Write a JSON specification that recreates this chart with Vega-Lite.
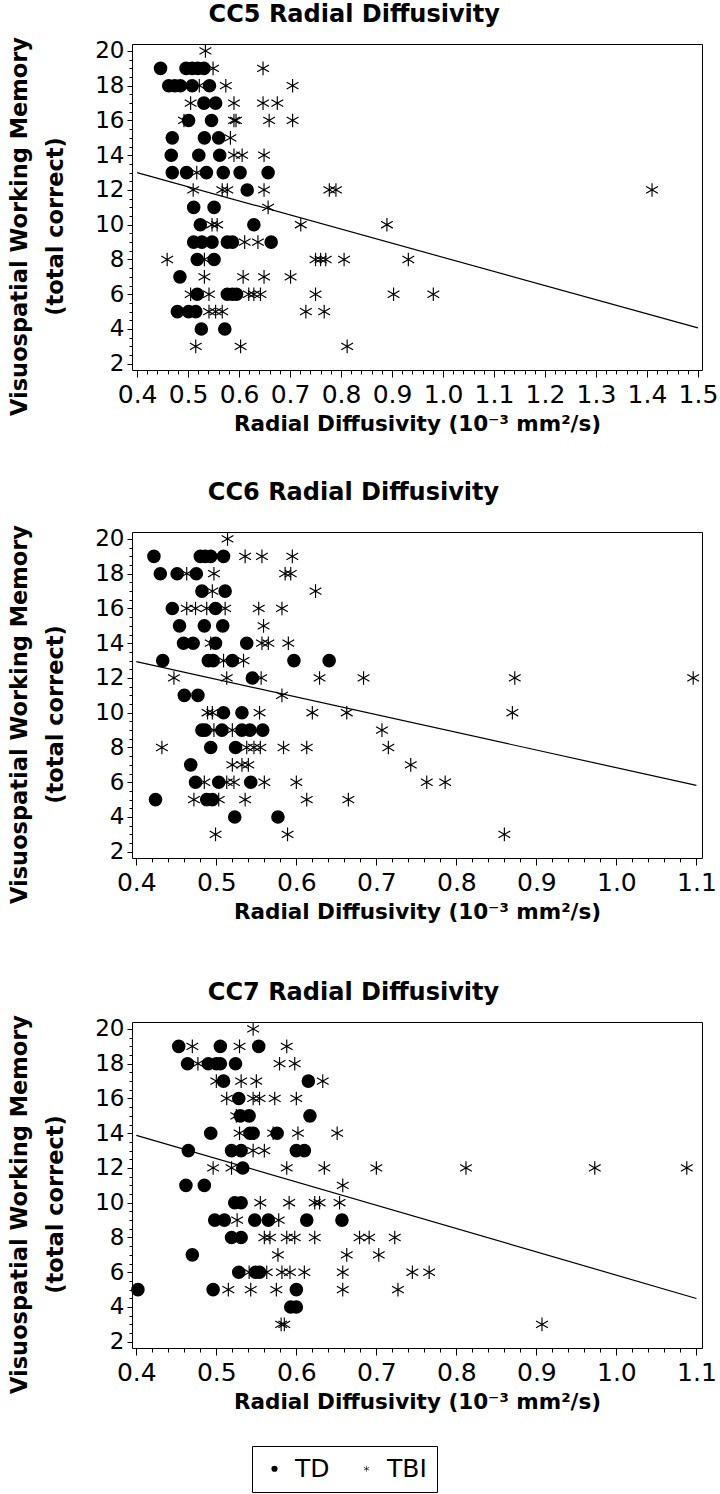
{
  "$schema": "https://vega.github.io/schema/vega-lite/v6.json",
  "padding": {"left": 8, "top": 2, "right": 5, "bottom": 0},
  "background": "white",
  "config": {
    "font": "DejaVu Sans",
    "view": {"stroke": "black", "strokeWidth": 1},
    "title": {"fontSize": 24, "fontWeight": "bold", "color": "black", "offset": 10, "font": "DejaVu Sans", "frame": "bounds", "dx": -9},
    "axis": {
      "domain": false, "grid": false, "tickColor": "black", "labelColor": "black", "titleColor": "black",
      "labelFont": "DejaVu Sans", "titleFont": "DejaVu Sans", "titleFontWeight": "bold", "labelFlush": false
    },
    "axisX": {"labelFontSize": 25, "labelPadding": 5, "titleFontSize": 21.5, "titlePadding": 6, "tickSize": 7},
    "axisY": {"labelFontSize": 23, "labelPadding": 3, "titleFontSize": 22.5, "titlePadding": 27, "titleLineHeight": 36, "tickSize": 5}
  },
  "datasets": {
    "pts": [
      {"p":"CC5","g":"TD","rd":0.446,"wm":19},{"p":"CC5","g":"TD","rd":0.496,"wm":19},{"p":"CC5","g":"TD","rd":0.508,"wm":19},{"p":"CC5","g":"TD","rd":0.519,"wm":19},{"p":"CC5","g":"TD","rd":0.531,"wm":19},
      {"p":"CC5","g":"TD","rd":0.462,"wm":18},{"p":"CC5","g":"TD","rd":0.474,"wm":18},{"p":"CC5","g":"TD","rd":0.485,"wm":18},{"p":"CC5","g":"TD","rd":0.508,"wm":18},{"p":"CC5","g":"TD","rd":0.542,"wm":18},
      {"p":"CC5","g":"TD","rd":0.531,"wm":17},{"p":"CC5","g":"TD","rd":0.554,"wm":17},
      {"p":"CC5","g":"TD","rd":0.501,"wm":16},{"p":"CC5","g":"TD","rd":0.546,"wm":16},
      {"p":"CC5","g":"TD","rd":0.469,"wm":15},{"p":"CC5","g":"TD","rd":0.532,"wm":15},{"p":"CC5","g":"TD","rd":0.56,"wm":15},
      {"p":"CC5","g":"TD","rd":0.467,"wm":14},{"p":"CC5","g":"TD","rd":0.521,"wm":14},{"p":"CC5","g":"TD","rd":0.562,"wm":14},
      {"p":"CC5","g":"TD","rd":0.469,"wm":13},{"p":"CC5","g":"TD","rd":0.497,"wm":13},{"p":"CC5","g":"TD","rd":0.536,"wm":13},{"p":"CC5","g":"TD","rd":0.569,"wm":13},{"p":"CC5","g":"TD","rd":0.602,"wm":13},{"p":"CC5","g":"TD","rd":0.657,"wm":13},
      {"p":"CC5","g":"TD","rd":0.616,"wm":12},
      {"p":"CC5","g":"TD","rd":0.511,"wm":11},{"p":"CC5","g":"TD","rd":0.551,"wm":11},
      {"p":"CC5","g":"TD","rd":0.524,"wm":10},{"p":"CC5","g":"TD","rd":0.629,"wm":10},
      {"p":"CC5","g":"TD","rd":0.511,"wm":9},{"p":"CC5","g":"TD","rd":0.527,"wm":9},{"p":"CC5","g":"TD","rd":0.547,"wm":9},{"p":"CC5","g":"TD","rd":0.577,"wm":9},{"p":"CC5","g":"TD","rd":0.587,"wm":9},{"p":"CC5","g":"TD","rd":0.663,"wm":9},
      {"p":"CC5","g":"TD","rd":0.518,"wm":8},{"p":"CC5","g":"TD","rd":0.551,"wm":8},
      {"p":"CC5","g":"TD","rd":0.484,"wm":7},
      {"p":"CC5","g":"TD","rd":0.518,"wm":6},{"p":"CC5","g":"TD","rd":0.577,"wm":6},{"p":"CC5","g":"TD","rd":0.587,"wm":6},{"p":"CC5","g":"TD","rd":0.595,"wm":6},
      {"p":"CC5","g":"TD","rd":0.479,"wm":5},{"p":"CC5","g":"TD","rd":0.501,"wm":5},{"p":"CC5","g":"TD","rd":0.515,"wm":5},
      {"p":"CC5","g":"TD","rd":0.526,"wm":4},{"p":"CC5","g":"TD","rd":0.572,"wm":4},

      {"p":"CC5","g":"TBI","rd":0.534,"wm":20},
      {"p":"CC5","g":"TBI","rd":0.549,"wm":19},{"p":"CC5","g":"TBI","rd":0.647,"wm":19},
      {"p":"CC5","g":"TBI","rd":0.522,"wm":18},{"p":"CC5","g":"TBI","rd":0.574,"wm":18},{"p":"CC5","g":"TBI","rd":0.705,"wm":18},
      {"p":"CC5","g":"TBI","rd":0.505,"wm":17},{"p":"CC5","g":"TBI","rd":0.59,"wm":17},{"p":"CC5","g":"TBI","rd":0.647,"wm":17},{"p":"CC5","g":"TBI","rd":0.675,"wm":17},
      {"p":"CC5","g":"TBI","rd":0.492,"wm":16},{"p":"CC5","g":"TBI","rd":0.59,"wm":16},{"p":"CC5","g":"TBI","rd":0.594,"wm":16},{"p":"CC5","g":"TBI","rd":0.659,"wm":16},{"p":"CC5","g":"TBI","rd":0.705,"wm":16},
      {"p":"CC5","g":"TBI","rd":0.583,"wm":15},
      {"p":"CC5","g":"TBI","rd":0.59,"wm":14},{"p":"CC5","g":"TBI","rd":0.606,"wm":14},{"p":"CC5","g":"TBI","rd":0.649,"wm":14},
      {"p":"CC5","g":"TBI","rd":0.517,"wm":13},
      {"p":"CC5","g":"TBI","rd":0.51,"wm":12},{"p":"CC5","g":"TBI","rd":0.567,"wm":12},{"p":"CC5","g":"TBI","rd":0.577,"wm":12},{"p":"CC5","g":"TBI","rd":0.649,"wm":12},{"p":"CC5","g":"TBI","rd":0.777,"wm":12},{"p":"CC5","g":"TBI","rd":0.79,"wm":12},{"p":"CC5","g":"TBI","rd":1.41,"wm":12},
      {"p":"CC5","g":"TBI","rd":0.657,"wm":11},
      {"p":"CC5","g":"TBI","rd":0.547,"wm":10},{"p":"CC5","g":"TBI","rd":0.557,"wm":10},{"p":"CC5","g":"TBI","rd":0.721,"wm":10},{"p":"CC5","g":"TBI","rd":0.89,"wm":10},
      {"p":"CC5","g":"TBI","rd":0.611,"wm":9},{"p":"CC5","g":"TBI","rd":0.637,"wm":9},
      {"p":"CC5","g":"TBI","rd":0.459,"wm":8},{"p":"CC5","g":"TBI","rd":0.532,"wm":8},{"p":"CC5","g":"TBI","rd":0.75,"wm":8},{"p":"CC5","g":"TBI","rd":0.76,"wm":8},{"p":"CC5","g":"TBI","rd":0.77,"wm":8},{"p":"CC5","g":"TBI","rd":0.806,"wm":8},{"p":"CC5","g":"TBI","rd":0.932,"wm":8},
      {"p":"CC5","g":"TBI","rd":0.532,"wm":7},{"p":"CC5","g":"TBI","rd":0.608,"wm":7},{"p":"CC5","g":"TBI","rd":0.649,"wm":7},{"p":"CC5","g":"TBI","rd":0.701,"wm":7},
      {"p":"CC5","g":"TBI","rd":0.505,"wm":6},{"p":"CC5","g":"TBI","rd":0.541,"wm":6},{"p":"CC5","g":"TBI","rd":0.619,"wm":6},{"p":"CC5","g":"TBI","rd":0.629,"wm":6},{"p":"CC5","g":"TBI","rd":0.642,"wm":6},{"p":"CC5","g":"TBI","rd":0.75,"wm":6},{"p":"CC5","g":"TBI","rd":0.903,"wm":6},{"p":"CC5","g":"TBI","rd":0.981,"wm":6},
      {"p":"CC5","g":"TBI","rd":0.541,"wm":5},{"p":"CC5","g":"TBI","rd":0.554,"wm":5},{"p":"CC5","g":"TBI","rd":0.567,"wm":5},{"p":"CC5","g":"TBI","rd":0.731,"wm":5},{"p":"CC5","g":"TBI","rd":0.767,"wm":5},
      {"p":"CC5","g":"TBI","rd":0.515,"wm":3},{"p":"CC5","g":"TBI","rd":0.603,"wm":3},{"p":"CC5","g":"TBI","rd":0.812,"wm":3},

      {"p":"CC6","g":"TD","rd":0.422,"wm":19},{"p":"CC6","g":"TD","rd":0.48,"wm":19},{"p":"CC6","g":"TD","rd":0.486,"wm":19},{"p":"CC6","g":"TD","rd":0.493,"wm":19},{"p":"CC6","g":"TD","rd":0.509,"wm":19},
      {"p":"CC6","g":"TD","rd":0.43,"wm":18},{"p":"CC6","g":"TD","rd":0.451,"wm":18},{"p":"CC6","g":"TD","rd":0.475,"wm":18},
      {"p":"CC6","g":"TD","rd":0.482,"wm":17},{"p":"CC6","g":"TD","rd":0.511,"wm":17},
      {"p":"CC6","g":"TD","rd":0.445,"wm":16},{"p":"CC6","g":"TD","rd":0.499,"wm":16},
      {"p":"CC6","g":"TD","rd":0.454,"wm":15},{"p":"CC6","g":"TD","rd":0.485,"wm":15},{"p":"CC6","g":"TD","rd":0.508,"wm":15},
      {"p":"CC6","g":"TD","rd":0.459,"wm":14},{"p":"CC6","g":"TD","rd":0.471,"wm":14},{"p":"CC6","g":"TD","rd":0.499,"wm":14},{"p":"CC6","g":"TD","rd":0.538,"wm":14},
      {"p":"CC6","g":"TD","rd":0.433,"wm":13},{"p":"CC6","g":"TD","rd":0.49,"wm":13},{"p":"CC6","g":"TD","rd":0.496,"wm":13},{"p":"CC6","g":"TD","rd":0.52,"wm":13},{"p":"CC6","g":"TD","rd":0.597,"wm":13},{"p":"CC6","g":"TD","rd":0.641,"wm":13},
      {"p":"CC6","g":"TD","rd":0.545,"wm":12},
      {"p":"CC6","g":"TD","rd":0.46,"wm":11},{"p":"CC6","g":"TD","rd":0.477,"wm":11},
      {"p":"CC6","g":"TD","rd":0.509,"wm":10},{"p":"CC6","g":"TD","rd":0.532,"wm":10},
      {"p":"CC6","g":"TD","rd":0.482,"wm":9},{"p":"CC6","g":"TD","rd":0.486,"wm":9},{"p":"CC6","g":"TD","rd":0.507,"wm":9},{"p":"CC6","g":"TD","rd":0.532,"wm":9},{"p":"CC6","g":"TD","rd":0.542,"wm":9},{"p":"CC6","g":"TD","rd":0.558,"wm":9},
      {"p":"CC6","g":"TD","rd":0.493,"wm":8},{"p":"CC6","g":"TD","rd":0.524,"wm":8},
      {"p":"CC6","g":"TD","rd":0.468,"wm":7},
      {"p":"CC6","g":"TD","rd":0.474,"wm":6},{"p":"CC6","g":"TD","rd":0.503,"wm":6},{"p":"CC6","g":"TD","rd":0.543,"wm":6},
      {"p":"CC6","g":"TD","rd":0.424,"wm":5},{"p":"CC6","g":"TD","rd":0.488,"wm":5},{"p":"CC6","g":"TD","rd":0.495,"wm":5},
      {"p":"CC6","g":"TD","rd":0.523,"wm":4},{"p":"CC6","g":"TD","rd":0.577,"wm":4},

      {"p":"CC6","g":"TBI","rd":0.514,"wm":20},
      {"p":"CC6","g":"TBI","rd":0.536,"wm":19},{"p":"CC6","g":"TBI","rd":0.557,"wm":19},{"p":"CC6","g":"TBI","rd":0.595,"wm":19},
      {"p":"CC6","g":"TBI","rd":0.463,"wm":18},{"p":"CC6","g":"TBI","rd":0.497,"wm":18},{"p":"CC6","g":"TBI","rd":0.586,"wm":18},{"p":"CC6","g":"TBI","rd":0.593,"wm":18},
      {"p":"CC6","g":"TBI","rd":0.495,"wm":17},{"p":"CC6","g":"TBI","rd":0.624,"wm":17},
      {"p":"CC6","g":"TBI","rd":0.463,"wm":16},{"p":"CC6","g":"TBI","rd":0.474,"wm":16},{"p":"CC6","g":"TBI","rd":0.488,"wm":16},{"p":"CC6","g":"TBI","rd":0.511,"wm":16},{"p":"CC6","g":"TBI","rd":0.553,"wm":16},{"p":"CC6","g":"TBI","rd":0.582,"wm":16},
      {"p":"CC6","g":"TBI","rd":0.559,"wm":15},
      {"p":"CC6","g":"TBI","rd":0.493,"wm":14},{"p":"CC6","g":"TBI","rd":0.557,"wm":14},{"p":"CC6","g":"TBI","rd":0.565,"wm":14},{"p":"CC6","g":"TBI","rd":0.59,"wm":14},
      {"p":"CC6","g":"TBI","rd":0.509,"wm":13},{"p":"CC6","g":"TBI","rd":0.534,"wm":13},
      {"p":"CC6","g":"TBI","rd":0.447,"wm":12},{"p":"CC6","g":"TBI","rd":0.513,"wm":12},{"p":"CC6","g":"TBI","rd":0.556,"wm":12},{"p":"CC6","g":"TBI","rd":0.629,"wm":12},{"p":"CC6","g":"TBI","rd":0.684,"wm":12},{"p":"CC6","g":"TBI","rd":0.873,"wm":12},{"p":"CC6","g":"TBI","rd":1.096,"wm":12},
      {"p":"CC6","g":"TBI","rd":0.582,"wm":11},
      {"p":"CC6","g":"TBI","rd":0.489,"wm":10},{"p":"CC6","g":"TBI","rd":0.495,"wm":10},{"p":"CC6","g":"TBI","rd":0.554,"wm":10},{"p":"CC6","g":"TBI","rd":0.62,"wm":10},{"p":"CC6","g":"TBI","rd":0.663,"wm":10},{"p":"CC6","g":"TBI","rd":0.87,"wm":10},
      {"p":"CC6","g":"TBI","rd":0.497,"wm":9},{"p":"CC6","g":"TBI","rd":0.52,"wm":9},{"p":"CC6","g":"TBI","rd":0.707,"wm":9},
      {"p":"CC6","g":"TBI","rd":0.432,"wm":8},{"p":"CC6","g":"TBI","rd":0.538,"wm":8},{"p":"CC6","g":"TBI","rd":0.547,"wm":8},{"p":"CC6","g":"TBI","rd":0.555,"wm":8},{"p":"CC6","g":"TBI","rd":0.584,"wm":8},{"p":"CC6","g":"TBI","rd":0.613,"wm":8},{"p":"CC6","g":"TBI","rd":0.715,"wm":8},
      {"p":"CC6","g":"TBI","rd":0.52,"wm":7},{"p":"CC6","g":"TBI","rd":0.532,"wm":7},{"p":"CC6","g":"TBI","rd":0.54,"wm":7},{"p":"CC6","g":"TBI","rd":0.743,"wm":7},
      {"p":"CC6","g":"TBI","rd":0.485,"wm":6},{"p":"CC6","g":"TBI","rd":0.513,"wm":6},{"p":"CC6","g":"TBI","rd":0.522,"wm":6},{"p":"CC6","g":"TBI","rd":0.56,"wm":6},{"p":"CC6","g":"TBI","rd":0.6,"wm":6},{"p":"CC6","g":"TBI","rd":0.763,"wm":6},{"p":"CC6","g":"TBI","rd":0.786,"wm":6},
      {"p":"CC6","g":"TBI","rd":0.472,"wm":5},{"p":"CC6","g":"TBI","rd":0.503,"wm":5},{"p":"CC6","g":"TBI","rd":0.536,"wm":5},{"p":"CC6","g":"TBI","rd":0.613,"wm":5},{"p":"CC6","g":"TBI","rd":0.665,"wm":5},
      {"p":"CC6","g":"TBI","rd":0.499,"wm":3},{"p":"CC6","g":"TBI","rd":0.589,"wm":3},{"p":"CC6","g":"TBI","rd":0.86,"wm":3},

      {"p":"CC7","g":"TD","rd":0.453,"wm":19},{"p":"CC7","g":"TD","rd":0.505,"wm":19},{"p":"CC7","g":"TD","rd":0.553,"wm":19},
      {"p":"CC7","g":"TD","rd":0.464,"wm":18},{"p":"CC7","g":"TD","rd":0.49,"wm":18},{"p":"CC7","g":"TD","rd":0.5,"wm":18},{"p":"CC7","g":"TD","rd":0.505,"wm":18},{"p":"CC7","g":"TD","rd":0.524,"wm":18},
      {"p":"CC7","g":"TD","rd":0.509,"wm":17},{"p":"CC7","g":"TD","rd":0.615,"wm":17},
      {"p":"CC7","g":"TD","rd":0.528,"wm":16},
      {"p":"CC7","g":"TD","rd":0.53,"wm":15},{"p":"CC7","g":"TD","rd":0.541,"wm":15},{"p":"CC7","g":"TD","rd":0.617,"wm":15},
      {"p":"CC7","g":"TD","rd":0.493,"wm":14},{"p":"CC7","g":"TD","rd":0.542,"wm":14},{"p":"CC7","g":"TD","rd":0.546,"wm":14},{"p":"CC7","g":"TD","rd":0.576,"wm":14},
      {"p":"CC7","g":"TD","rd":0.465,"wm":13},{"p":"CC7","g":"TD","rd":0.519,"wm":13},{"p":"CC7","g":"TD","rd":0.531,"wm":13},{"p":"CC7","g":"TD","rd":0.6,"wm":13},{"p":"CC7","g":"TD","rd":0.61,"wm":13},
      {"p":"CC7","g":"TD","rd":0.533,"wm":12},
      {"p":"CC7","g":"TD","rd":0.462,"wm":11},{"p":"CC7","g":"TD","rd":0.485,"wm":11},
      {"p":"CC7","g":"TD","rd":0.523,"wm":10},{"p":"CC7","g":"TD","rd":0.531,"wm":10},
      {"p":"CC7","g":"TD","rd":0.498,"wm":9},{"p":"CC7","g":"TD","rd":0.51,"wm":9},{"p":"CC7","g":"TD","rd":0.548,"wm":9},{"p":"CC7","g":"TD","rd":0.565,"wm":9},{"p":"CC7","g":"TD","rd":0.613,"wm":9},{"p":"CC7","g":"TD","rd":0.657,"wm":9},
      {"p":"CC7","g":"TD","rd":0.519,"wm":8},{"p":"CC7","g":"TD","rd":0.531,"wm":8},
      {"p":"CC7","g":"TD","rd":0.47,"wm":7},
      {"p":"CC7","g":"TD","rd":0.528,"wm":6},{"p":"CC7","g":"TD","rd":0.549,"wm":6},{"p":"CC7","g":"TD","rd":0.554,"wm":6},
      {"p":"CC7","g":"TD","rd":0.402,"wm":5},{"p":"CC7","g":"TD","rd":0.496,"wm":5},{"p":"CC7","g":"TD","rd":0.6,"wm":5},
      {"p":"CC7","g":"TD","rd":0.593,"wm":4},{"p":"CC7","g":"TD","rd":0.6,"wm":4},

      {"p":"CC7","g":"TBI","rd":0.546,"wm":20},
      {"p":"CC7","g":"TBI","rd":0.47,"wm":19},{"p":"CC7","g":"TBI","rd":0.529,"wm":19},{"p":"CC7","g":"TBI","rd":0.588,"wm":19},
      {"p":"CC7","g":"TBI","rd":0.477,"wm":18},{"p":"CC7","g":"TBI","rd":0.579,"wm":18},{"p":"CC7","g":"TBI","rd":0.598,"wm":18},
      {"p":"CC7","g":"TBI","rd":0.5,"wm":17},{"p":"CC7","g":"TBI","rd":0.531,"wm":17},{"p":"CC7","g":"TBI","rd":0.55,"wm":17},{"p":"CC7","g":"TBI","rd":0.633,"wm":17},
      {"p":"CC7","g":"TBI","rd":0.513,"wm":16},{"p":"CC7","g":"TBI","rd":0.546,"wm":16},{"p":"CC7","g":"TBI","rd":0.554,"wm":16},{"p":"CC7","g":"TBI","rd":0.573,"wm":16},{"p":"CC7","g":"TBI","rd":0.6,"wm":16},
      {"p":"CC7","g":"TBI","rd":0.525,"wm":15},
      {"p":"CC7","g":"TBI","rd":0.529,"wm":14},{"p":"CC7","g":"TBI","rd":0.571,"wm":14},{"p":"CC7","g":"TBI","rd":0.602,"wm":14},{"p":"CC7","g":"TBI","rd":0.651,"wm":14},
      {"p":"CC7","g":"TBI","rd":0.546,"wm":13},{"p":"CC7","g":"TBI","rd":0.56,"wm":13},
      {"p":"CC7","g":"TBI","rd":0.496,"wm":12},{"p":"CC7","g":"TBI","rd":0.519,"wm":12},{"p":"CC7","g":"TBI","rd":0.588,"wm":12},{"p":"CC7","g":"TBI","rd":0.635,"wm":12},{"p":"CC7","g":"TBI","rd":0.7,"wm":12},{"p":"CC7","g":"TBI","rd":0.812,"wm":12},{"p":"CC7","g":"TBI","rd":0.973,"wm":12},{"p":"CC7","g":"TBI","rd":1.088,"wm":12},
      {"p":"CC7","g":"TBI","rd":0.658,"wm":11},
      {"p":"CC7","g":"TBI","rd":0.555,"wm":10},{"p":"CC7","g":"TBI","rd":0.591,"wm":10},{"p":"CC7","g":"TBI","rd":0.623,"wm":10},{"p":"CC7","g":"TBI","rd":0.629,"wm":10},{"p":"CC7","g":"TBI","rd":0.654,"wm":10},
      {"p":"CC7","g":"TBI","rd":0.526,"wm":9},{"p":"CC7","g":"TBI","rd":0.578,"wm":9},
      {"p":"CC7","g":"TBI","rd":0.56,"wm":8},{"p":"CC7","g":"TBI","rd":0.567,"wm":8},{"p":"CC7","g":"TBI","rd":0.588,"wm":8},{"p":"CC7","g":"TBI","rd":0.598,"wm":8},{"p":"CC7","g":"TBI","rd":0.623,"wm":8},{"p":"CC7","g":"TBI","rd":0.679,"wm":8},{"p":"CC7","g":"TBI","rd":0.691,"wm":8},{"p":"CC7","g":"TBI","rd":0.723,"wm":8},
      {"p":"CC7","g":"TBI","rd":0.577,"wm":7},{"p":"CC7","g":"TBI","rd":0.663,"wm":7},{"p":"CC7","g":"TBI","rd":0.703,"wm":7},
      {"p":"CC7","g":"TBI","rd":0.541,"wm":6},{"p":"CC7","g":"TBI","rd":0.563,"wm":6},{"p":"CC7","g":"TBI","rd":0.582,"wm":6},{"p":"CC7","g":"TBI","rd":0.592,"wm":6},{"p":"CC7","g":"TBI","rd":0.61,"wm":6},{"p":"CC7","g":"TBI","rd":0.658,"wm":6},{"p":"CC7","g":"TBI","rd":0.745,"wm":6},{"p":"CC7","g":"TBI","rd":0.766,"wm":6},
      {"p":"CC7","g":"TBI","rd":0.515,"wm":5},{"p":"CC7","g":"TBI","rd":0.543,"wm":5},{"p":"CC7","g":"TBI","rd":0.575,"wm":5},{"p":"CC7","g":"TBI","rd":0.658,"wm":5},{"p":"CC7","g":"TBI","rd":0.727,"wm":5},
      {"p":"CC7","g":"TBI","rd":0.581,"wm":3},{"p":"CC7","g":"TBI","rd":0.585,"wm":3},{"p":"CC7","g":"TBI","rd":0.907,"wm":3}
    ],
    "fits": [
      {"p":"CC5","rd":0.4,"wm":13.0},{"p":"CC5","rd":1.5,"wm":4.06},
      {"p":"CC6","rd":0.4,"wm":12.94},{"p":"CC6","rd":1.1,"wm":5.82},
      {"p":"CC7","rd":0.4,"wm":13.88},{"p":"CC7","rd":1.1,"wm":4.49}
    ]
  },
  "spacing": 57,
  "resolve": {"scale": {"shape": "shared"}},
  "vconcat": [
    {
      "spacing": 45,
      "vconcat": [
        {
          "width": 570, "height": 326,
          "title": {"text": "CC5 Radial Diffusivity"},
          "resolve": {"axis": {"x": "independent", "y": "independent"}},
          "layer": [
            {
              "data": {"name": "fits"},
              "transform": [{"filter": "datum.p == 'CC5'"}],
              "mark": {"type": "line", "color": "black", "strokeWidth": 1.2},
              "encoding": {
                "x": {"field": "rd", "type": "quantitative", "scale": {"domain": [0.39, 1.508], "nice": false, "zero": false},
                  "axis": {"orient": "bottom", "title": "Radial Diffusivity (10⁻³ mm²/s)", "format": ".1f",
                    "values": [0.4,0.5,0.6,0.7,0.8,0.9,1.0,1.1,1.2,1.3,1.4,1.5]}},
                "y": {"field": "wm", "type": "quantitative", "scale": {"domain": [1.64, 20.4], "nice": false, "zero": false},
                  "axis": {"orient": "left", "title": ["Visuospatial Working Memory", "(total correct)"], "titleY": 182,
                    "values": [2,4,6,8,10,12,14,16,18,20]}}
              }
            },
            {
              "data": {"name": "pts"},
              "transform": [{"filter": "datum.p == 'CC5'"}],
              "mark": {"type": "point", "filled": true, "color": "black", "strokeWidth": 0, "opacity": 1, "size": 185},
              "encoding": {
                "x": {"field": "rd", "type": "quantitative",
                  "axis": {"orient": "bottom", "title": null, "labels": false, "tickSize": 4,
                    "values": [0.42,0.44,0.46,0.48,0.52,0.54,0.56,0.58,0.62,0.64,0.66,0.68,0.72,0.74,0.76,0.78,0.82,0.84,0.86,0.88,0.92,0.94,0.96,0.98,1.02,1.04,1.06,1.08,1.12,1.14,1.16,1.18,1.22,1.24,1.26,1.28,1.32,1.34,1.36,1.38,1.42,1.44,1.46,1.48]}},
                "y": {"field": "wm", "type": "quantitative",
                  "axis": {"orient": "left", "title": null, "labels": false, "tickSize": 3,
                    "values": [2.5,3,3.5,4.5,5,5.5,6.5,7,7.5,8.5,9,9.5,10.5,11,11.5,12.5,13,13.5,14.5,15,15.5,16.5,17,17.5,18.5,19,19.5]}},
                "shape": {"field": "g", "type": "nominal",
                  "scale": {"domain": ["TD", "TBI"], "range": ["circle", "M-0.085,-1L0.085,-1L0.085,1L-0.085,1ZM0.8235,0.5736L-0.9085,-0.4264L-0.8235,-0.5736L0.9085,0.4264ZM0.9085,-0.4264L-0.8235,0.5736L-0.9085,0.4264L0.8235,-0.5736Z"]},
                  "legend": {"title": null, "orient": "none", "legendX": 120, "legendY": 1402, "direction": "horizontal", "strokeColor": "black", "padding": 10,
                    "labelFontSize": 25, "labelColor": "black", "symbolSize": 38, "symbolFillColor": "black", "symbolStrokeWidth": 0,
                    "symbolOffset": 0, "labelOffset": 8, "columnPadding": 24}}
              }
            }
          ]
        },
        {
          "width": 570, "height": 326,
          "title": {"text": "CC6 Radial Diffusivity", "offset": 20},
          "resolve": {"axis": {"x": "independent", "y": "independent"}},
          "layer": [
            {
              "data": {"name": "fits"},
              "transform": [{"filter": "datum.p == 'CC6'"}],
              "mark": {"type": "line", "color": "black", "strokeWidth": 1.2},
              "encoding": {
                "x": {"field": "rd", "type": "quantitative", "scale": {"domain": [0.3946, 1.107], "nice": false, "zero": false},
                  "axis": {"orient": "bottom", "title": "Radial Diffusivity (10⁻³ mm²/s)", "format": ".1f",
                    "values": [0.4,0.5,0.6,0.7,0.8,0.9,1.0,1.1]}},
                "y": {"field": "wm", "type": "quantitative", "scale": {"domain": [1.64, 20.4], "nice": false, "zero": false},
                  "axis": {"orient": "left", "title": ["Visuospatial Working Memory", "(total correct)"], "titleY": 182,
                    "values": [2,4,6,8,10,12,14,16,18,20]}}
              }
            },
            {
              "data": {"name": "pts"},
              "transform": [{"filter": "datum.p == 'CC6'"}],
              "mark": {"type": "point", "filled": true, "color": "black", "strokeWidth": 0, "opacity": 1, "size": 185},
              "encoding": {
                "x": {"field": "rd", "type": "quantitative",
                  "axis": {"orient": "bottom", "title": null, "labels": false, "tickSize": 4,
                    "values": [0.42,0.44,0.46,0.48,0.52,0.54,0.56,0.58,0.62,0.64,0.66,0.68,0.72,0.74,0.76,0.78,0.82,0.84,0.86,0.88,0.92,0.94,0.96,0.98,1.02,1.04,1.06,1.08]}},
                "y": {"field": "wm", "type": "quantitative",
                  "axis": {"orient": "left", "title": null, "labels": false, "tickSize": 3,
                    "values": [2.5,3,3.5,4.5,5,5.5,6.5,7,7.5,8.5,9,9.5,10.5,11,11.5,12.5,13,13.5,14.5,15,15.5,16.5,17,17.5,18.5,19,19.5]}},
                "shape": {"field": "g", "type": "nominal"}
              }
            }
          ]
        }
      ]
    },
    {
      "width": 570, "height": 326,
      "title": {"text": "CC7 Radial Diffusivity"},
      "resolve": {"axis": {"x": "independent", "y": "independent"}},
      "layer": [
        {
          "data": {"name": "fits"},
          "transform": [{"filter": "datum.p == 'CC7'"}],
          "mark": {"type": "line", "color": "black", "strokeWidth": 1.2},
          "encoding": {
            "x": {"field": "rd", "type": "quantitative", "scale": {"domain": [0.3946, 1.107], "nice": false, "zero": false},
              "axis": {"orient": "bottom", "title": "Radial Diffusivity (10⁻³ mm²/s)", "format": ".1f",
                "values": [0.4,0.5,0.6,0.7,0.8,0.9,1.0,1.1]}},
            "y": {"field": "wm", "type": "quantitative", "scale": {"domain": [1.64, 20.4], "nice": false, "zero": false},
              "axis": {"orient": "left", "title": ["Visuospatial Working Memory", "(total correct)"], "titleY": 182,
                "values": [2,4,6,8,10,12,14,16,18,20]}}
          }
        },
        {
          "data": {"name": "pts"},
          "transform": [{"filter": "datum.p == 'CC7'"}],
          "mark": {"type": "point", "filled": true, "color": "black", "strokeWidth": 0, "opacity": 1, "size": 185},
          "encoding": {
            "x": {"field": "rd", "type": "quantitative",
              "axis": {"orient": "bottom", "title": null, "labels": false, "tickSize": 4,
                "values": [0.42,0.44,0.46,0.48,0.52,0.54,0.56,0.58,0.62,0.64,0.66,0.68,0.72,0.74,0.76,0.78,0.82,0.84,0.86,0.88,0.92,0.94,0.96,0.98,1.02,1.04,1.06,1.08]}},
            "y": {"field": "wm", "type": "quantitative",
              "axis": {"orient": "left", "title": null, "labels": false, "tickSize": 3,
                "values": [2.5,3,3.5,4.5,5,5.5,6.5,7,7.5,8.5,9,9.5,10.5,11,11.5,12.5,13,13.5,14.5,15,15.5,16.5,17,17.5,18.5,19,19.5]}},
            "shape": {"field": "g", "type": "nominal"}
          }
        }
      ]
    }
  ]
}
